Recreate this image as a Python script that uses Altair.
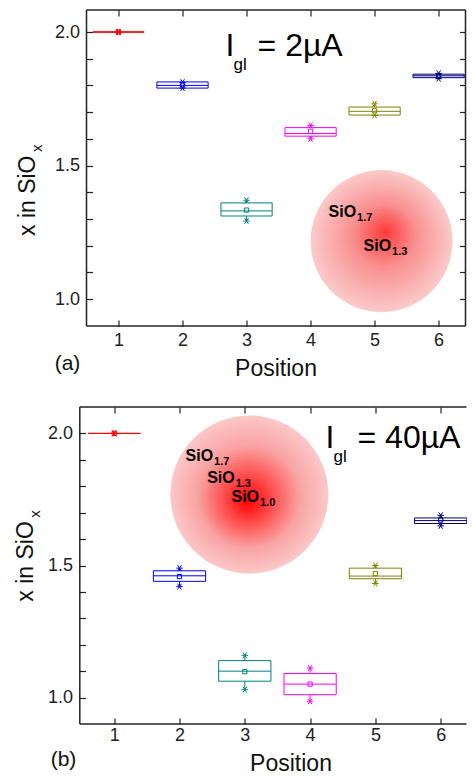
import altair as alt
import pandas as pd

FONT = "Liberation Sans"

# ---------------- data ----------------
positions = [1, 2, 3, 4, 5, 6]
palette = ["#ff0000", "#0000ff", "#008080", "#ff00ff", "#808000", "#000080"]
y_tick_values = [1.0, 1.1, 1.2, 1.3, 1.4, 1.5, 1.6, 1.7, 1.8, 1.9, 2.0]

# (a) I_gl = 2 uA
a_q1 = [2.0, 1.790, 1.311, 1.610, 1.689, 1.829]
a_med = [2.0, 1.800, 1.330, 1.620, 1.703, 1.836]
a_q3 = [2.0, 1.813, 1.360, 1.642, 1.719, 1.842]
a_mean = [2.0, 1.802, 1.333, 1.628, 1.705, 1.835]
a_lo = [2.0, 1.790, 1.292, 1.600, 1.688, 1.825]
a_hi = [2.0, 1.812, 1.370, 1.650, 1.731, 1.845]

# (b) I_gl = 40 uA
b_q1 = [2.0, 1.440, 1.062, 1.011, 1.450, 1.659]
b_med = [2.0, 1.461, 1.100, 1.051, 1.460, 1.670]
b_q3 = [2.0, 1.480, 1.140, 1.091, 1.490, 1.680]
b_mean = [2.0, 1.458, 1.098, 1.051, 1.469, 1.672]
b_lo = [2.0, 1.420, 1.030, 0.986, 1.432, 1.650]
b_hi = [2.0, 1.490, 1.160, 1.112, 1.500, 1.690]

a_current = "= 2µA"
b_current = "= 40µA"
a_phases = ["1.7", "1.3"]
b_phases = ["1.7", "1.3", "1.0"]
y_title_main = "x in SiO"
y_title_sub = "x"

# annotation anchors (data coordinates)
a_spot = {"x": [5.109], "y": [1.217]}
b_spot = {"x": [3.069], "y": [1.769]}
a_igl = {"x": [2.672], "y": [1.910]}
b_igl = {"x": [4.236], "y": [1.943]}
a_phase_x = [4.281, 4.828]
a_phase_y = [1.307, 1.180]
b_phase_x = [2.092, 2.424, 2.796]
b_phase_y = [1.897, 1.813, 1.739]
a_tag = {"x": [0.203], "y": [0.734], "t": ["(a)"]}
b_tag = {"x": [0.224], "y": [0.742], "t": ["(b)"]}
a_ytitle = {"x": [-0.297], "y": [1.236]}
b_ytitle = {"x": [-0.236], "y": [1.363]}

STAR = "M-1,0L1,0M-0.6,-0.9L0.6,0.9M-0.6,0.9L0.6,-0.9"
TICK_IN = alt.ExprRef(expr="-6")


def grad(stops, fx, fy):
    return {
        "gradient": "radial",
        "stops": [{"offset": o, "color": c} for o, c in stops],
        "x1": fx, "y1": fy, "r1": 0,
        "x2": 0.5, "y2": 0.5, "r2": 0.5,
    }


grad_a = grad([(0, "#ff3a3a"), (0.45, "#f99090"), (1, "#fbcaca")], 0.53, 0.43)
grad_b = grad([(0, "#ff0000"), (0.3, "#ff4c4c"), (0.65, "#f9a3a3"), (1, "#fcc8c8")], 0.49, 0.545)


def panel(stats, xdom, ydom, w, h, spot, spot_size, spot_grad, igl, current,
          phase_x, phase_y, phases, tag, ytitle, frame, y_offset,
          x_label_pad, x_title_pad, x_title_x, right_ticks):
    q1, med, q3, mean, lo, hi = stats
    df = pd.DataFrame({"pos": positions, "q1": q1, "med": med, "q3": q3,
                       "mean": mean, "lo": lo, "hi": hi})
    xs = alt.Scale(domain=xdom, nice=False, zero=False)
    ys = alt.Scale(domain=ydom, nice=False, zero=False)
    col = alt.Color("pos:N", scale=alt.Scale(domain=positions, range=palette), legend=None)
    base = alt.Chart(df).transform_calculate(xl="datum.pos - 0.4", xr="datum.pos + 0.4")

    x_bottom = alt.Axis(orient="bottom", values=positions, format="d", domain=False,
                        tickSize=TICK_IN, tickColor="#222", tickWidth=1.2,
                        labelPadding=x_label_pad, labelFontSize=18, labelColor="#222",
                        labelFlush=False, title="Position", titleFontSize=23,
                        titleFontWeight="normal", titleColor="#111",
                        titlePadding=x_title_pad, titleX=x_title_x, grid=False)
    y_left = alt.Axis(orient="left", values=y_tick_values, format=".1f",
                      labelExpr="round(datum.value*10) % 5 == 0 ? datum.label : ''",
                      domain=False, tickSize=TICK_IN, tickColor="#222", tickWidth=1.2,
                      offset=y_offset, labelPadding=13, labelFontSize=18,
                      labelColor="#222", labelFlush=False, title=None, grid=False)
    x_top = alt.Axis(orient="top", values=positions, labels=False, domain=False,
                     tickSize=TICK_IN, tickColor="#222", tickWidth=1.2, title=None, grid=False)
    y_right = (alt.Axis(orient="right", values=y_tick_values, labels=False, domain=False,
                        tickSize=TICK_IN, tickColor="#222", tickWidth=1.2, title=None,
                        grid=False) if right_ticks else None)

    spot_layer = alt.Chart(pd.DataFrame(spot)).mark_point(
        shape="circle", filled=True, fill=spot_grad, size=spot_size, opacity=1,
        strokeWidth=0).encode(
        x=alt.X("x:Q", scale=xs, axis=None), y=alt.Y("y:Q", scale=ys, axis=None))

    boxes = base.mark_rect(filled=False, strokeWidth=1).encode(
        x=alt.X("xl:Q", scale=xs, axis=x_bottom), x2="xr:Q",
        y=alt.Y("q1:Q", scale=ys, axis=y_left), y2="q3:Q", color=col)

    medians = base.mark_rule(strokeWidth=1).encode(
        x=alt.X("xl:Q", scale=xs, axis=x_top), x2="xr:Q",
        y=alt.Y("med:Q", scale=ys, axis=y_right), color=col)

    whisk_hi = base.mark_rule(strokeWidth=1).encode(
        x=alt.X("pos:Q", scale=xs, axis=None),
        y=alt.Y("q3:Q", scale=ys, axis=None), y2="hi:Q", color=col)
    whisk_lo = base.mark_rule(strokeWidth=1).encode(
        x=alt.X("pos:Q", scale=xs, axis=None),
        y=alt.Y("lo:Q", scale=ys, axis=None), y2="q1:Q", color=col)

    means = base.mark_point(shape="square", filled=False, size=18, strokeWidth=1,
                            opacity=1).encode(
        x=alt.X("pos:Q", scale=xs, axis=None),
        y=alt.Y("mean:Q", scale=ys, axis=None), color=col)

    stars = base.transform_fold(["lo", "hi"], as_=["k", "v"]).mark_point(
        shape=STAR, filled=False, size=42, strokeWidth=1, opacity=1).encode(
        x=alt.X("pos:Q", scale=xs, axis=None),
        y=alt.Y("v:Q", scale=ys, axis=None), color=col)

    def txt(data, text, size, weight, dx, dy, angle=0, color="#000"):
        return alt.Chart(pd.DataFrame(data)).mark_text(
            align="left", baseline="alphabetic", font=FONT, fontSize=size,
            fontWeight=weight, dx=dx, dy=dy, angle=angle, color=color).encode(
            x=alt.X("x:Q", scale=xs, axis=None), y=alt.Y("y:Q", scale=ys, axis=None),
            text=text)

    igl_i = txt(igl, alt.value("I"), 32, "normal", 0, 0)
    igl_sub = txt(igl, alt.value("gl"), 17, "normal", 8, 14)
    igl_rest = txt(dict(igl, t=[current]), "t:N", 32, "normal", 32, 0)

    ph = {"x": phase_x, "y": phase_y, "t": phases}
    sio = txt(ph, alt.value("SiO"), 16, "bold", 0, 0)
    sio_sub = txt(ph, "t:N", 11, "bold", 28.5, 4)

    yt_main = txt(ytitle, alt.value(y_title_main), 23, "normal", 0, 0, 270, "#111")
    yt_sub = txt(ytitle, alt.value(y_title_sub), 15, "normal", 84, 7, 270, "#111")

    tag_layer = alt.Chart(pd.DataFrame(tag)).mark_text(
        align="center", baseline="alphabetic", font=FONT, fontSize=21,
        color="#111").encode(
        x=alt.X("x:Q", scale=xs, axis=None), y=alt.Y("y:Q", scale=ys, axis=None),
        text="t:N")

    frame_layer = alt.Chart(pd.DataFrame(frame)).mark_rule(
        color="#222", strokeWidth=1.5).encode(
        x=alt.X("x:Q", scale=xs, axis=None), x2="x2:Q",
        y=alt.Y("y:Q", scale=ys, axis=None), y2="y2:Q")

    return alt.layer(
        spot_layer, boxes, medians, whisk_hi, whisk_lo, means, stars,
        igl_i, igl_sub, igl_rest, sio, sio_sub, yt_main, yt_sub, tag_layer, frame_layer
    ).resolve_axis(x="independent", y="independent").properties(width=w, height=h)


a_xdom = [0.5, 6.42]
a_ydom = [0.899, 2.0824]
b_xdom = [0.5758, 6.395]
b_ydom = [0.9, 2.1]

a_frame = {
    "x": [a_xdom[0], a_xdom[1], a_xdom[0], a_xdom[0]],
    "x2": [a_xdom[0], a_xdom[1], a_xdom[1], a_xdom[1]],
    "y": [a_ydom[0], a_ydom[0], a_ydom[1], a_ydom[0]],
    "y2": [a_ydom[1], a_ydom[1], a_ydom[1], a_ydom[0]],
}
b_left = 0.4732
b_frame = {
    "x": [b_left, b_left, b_left],
    "x2": [b_left, b_xdom[1], b_xdom[1]],
    "y": [b_ydom[0], b_ydom[1], b_ydom[0]],
    "y2": [b_ydom[1], b_ydom[1], b_ydom[0]],
}

chart_a = panel((a_q1, a_med, a_q3, a_mean, a_lo, a_hi), a_xdom, a_ydom, 379, 316,
                a_spot, 20164, grad_a, a_igl, a_current, a_phase_x, a_phase_y, a_phases,
                a_tag, a_ytitle, a_frame, 0, 11, 8, 189, True)
chart_b = panel((b_q1, b_med, b_q3, b_mean, b_lo, b_hi), b_xdom, b_ydom, 380, 317,
                b_spot, 24964, grad_b, b_igl, b_current, b_phase_x, b_phase_y, b_phases,
                b_tag, b_ytitle, b_frame, 7, 8, 8, 204, False)

chart = alt.vconcat(chart_a, chart_b, spacing=26).properties(
    padding={"left": 6.5, "top": 1, "right": -1, "bottom": 0}
).configure(font=FONT).configure_view(stroke=None)

chart.save("out.html", embed_options={"renderer": "svg", "actions": False})
